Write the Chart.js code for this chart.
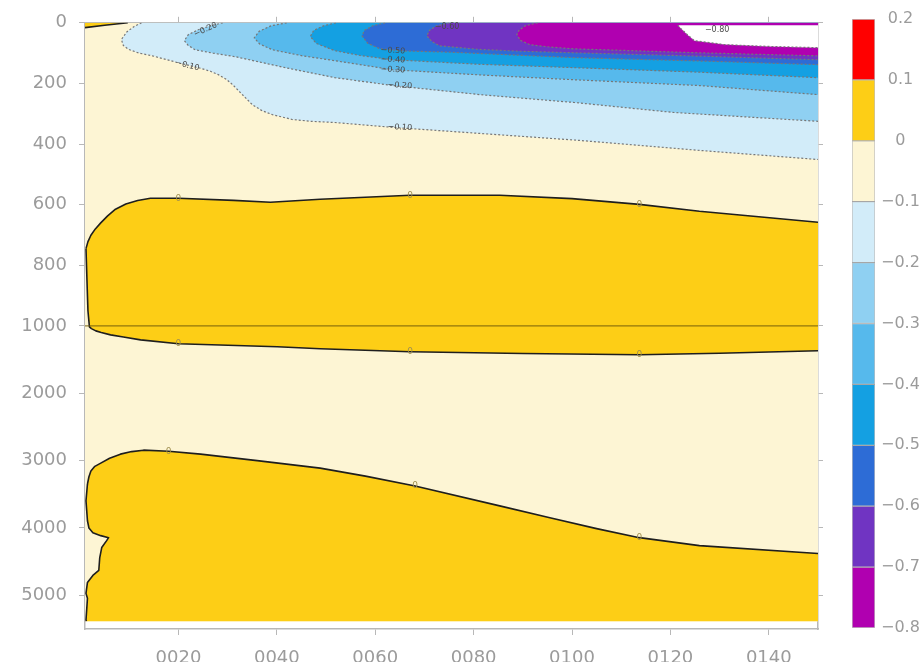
<!DOCTYPE html>
<html>
<head>
<meta charset="utf-8">
<script src="https://cdn.jsdelivr.net/npm/chart.js@4.4.1/dist/chart.umd.min.js"></script>
<style>
  body { margin: 0; background: #fff; }
  #wrap { position: relative; width: 923px; height: 662px; overflow: hidden; }
  #mainChart { position: absolute; left: 0; top: 0; }
  #barChart { position: absolute; left: 845px; top: 0; }
</style>
</head>
<body>
<div id="wrap">
  <canvas id="mainChart" width="840" height="662"></canvas>
  <canvas id="barChart" width="78" height="662"></canvas>
</div>
<script>
// axes
var xMin = 1, xMax = 150;
var depthBreak = 1000, depthMax = 5500, dataBottom = 5384;
var xTickValues = [20, 40, 60, 80, 100, 120, 140];
var depthTicks = [0, 200, 400, 600, 800, 1000, 2000, 3000, 4000, 5000];

// colour bar levels (bottom to top) and colours of each band
var cbLevels = [-0.8, -0.7, -0.6, -0.5, -0.4, -0.3, -0.2, -0.1, 0, 0.1, 0.2];
var cbColors = ['#b000b0', '#7034c2', '#2d6cd6', '#14a0e2', '#56b9ec', '#8fd0f2', '#d2ecf9', '#fdf5d4', '#fdce16', '#ff0000'];

// contour regions, [year, depth]
var bandBackground = [[1, 0], [150, 0], [150, 5384], [1, 5384]];
var posSurface = [[9.7, 0], [5, 8], [1, 16], [1, 0]];
var posUpper = [[1.2, 745], [1.6, 722], [2.2, 701], [3.1, 680], [4.2, 660], [5.6, 637], [7.2, 615], [9.3, 598],
  [11.7, 586], [14.3, 579], [20, 579], [31.2, 586], [38.7, 592], [48.8, 582], [67.1, 569], [85.3, 569],
  [100, 580], [113.7, 599], [125.9, 622], [150, 658],
  [150, 1369], [130, 1405], [113.7, 1428], [90, 1410], [67.1, 1384], [48.8, 1340], [40.1, 1310], [20, 1266],
  [12.3, 1207], [8.8, 1165], [6.2, 1133], [4.3, 1098], [3.2, 1074], [2.3, 1040], [1.9, 1015], [1.6, 950],
  [1.4, 850], [1.2, 745]];
var posDeep = [[1.5, 3347], [1.8, 3240], [2.2, 3155], [3.0, 3085], [4.2, 3037], [6.0, 2965], [8.2, 2904],
  [10.5, 2866], [12.9, 2845], [18, 2860], [24.5, 2904], [36, 3000], [48.8, 3111], [58, 3230], [68.1, 3376],
  [85.3, 3672], [95.5, 3849], [105, 4010], [113.7, 4144], [125.9, 4262], [150, 4380],
  [150, 5384], [1.3, 5384], [1.2, 5369], [1.5, 5044], [1.2, 4971], [1.5, 4808], [2.6, 4705], [3.8, 4631],
  [4.0, 4439], [4.4, 4291], [5.4, 4188], [5.8, 4144], [4.2, 4114], [2.6, 4070], [1.8, 4000], [1.5, 3893],
  [1.2, 3598], [1.5, 3347]];
var neg10 = [[12.5, 0], [11, 12], [9.5, 30], [8.4, 55], [8.8, 75], [9.9, 88], [12, 100], [14.7, 109], [20, 132],
  [24.5, 150], [26.5, 160], [28.1, 171], [29.7, 186], [31, 204], [33.6, 247], [35, 270], [37, 290], [39.1, 303],
  [43.1, 319], [47, 325], [51.8, 329], [63.6, 345], [81.3, 365], [101.5, 388], [125.9, 421], [150, 451], [150, 0]];
var neg20 = [[29, 0], [26.5, 10], [24, 23], [22, 39], [21.2, 59], [22, 75], [23.4, 89], [27, 100], [31.6, 112],
  [41.7, 148], [51.8, 181], [63.6, 207], [81.3, 237], [100.5, 263], [120.8, 296], [150, 325], [150, 0]];
var neg30 = [[42, 0], [38.8, 10], [36.4, 28], [35.4, 50], [36.5, 70], [39.1, 89], [45.2, 109], [51.8, 125],
  [63.6, 155], [81.3, 172], [100.5, 188], [125.9, 207], [150, 237], [150, 0]];
var neg40 = [[52, 0], [49.5, 10], [47.5, 25], [46.8, 45], [48, 68], [51.8, 92], [57, 108], [63.6, 122],
  [81.3, 137], [100.5, 148], [125.9, 163], [150, 181], [150, 0]];
var neg50 = [[62, 0], [59.5, 10], [57.8, 25], [57.3, 43], [58.5, 68], [61, 86], [66, 93], [75.2, 97],
  [100.5, 115], [125.9, 126], [150, 138], [150, 0]];
var neg60 = [[75, 0], [72.5, 10], [71, 25], [70.5, 43], [71.5, 62], [73.1, 76], [81.3, 88], [90, 94],
  [100.5, 99], [125.9, 110], [150, 122], [150, 0]];
var neg70 = [[93, 0], [90.5, 10], [89.2, 25], [88.8, 39], [89.5, 58], [91.4, 72], [95.5, 80], [100.5, 86],
  [125.9, 99], [150, 109], [150, 0]];
var neg80 = [[121.5, 8], [122.2, 20], [123.5, 40], [124.9, 59], [131, 72], [140, 78], [150, 82], [150, 8]];
var divider = [[1, 1000], [150, 1000]];

// contour labels
var labelText = ['0', '0', '0', '0', '0', '0', '0', '0', '0',
  '\u22120.10', '\u22120.20', '\u22120.10', '\u22120.20', '\u22120.30', '\u22120.40', '\u22120.50', '\u22120.60', '\u22120.80'];
var labelX = [20, 67.1, 113.7, 20, 67.1, 113.7, 18, 68.1, 113.7, 21.8, 25.5, 65, 65, 63.6, 63.6, 63.6, 74.6, 129.5];
var labelY = [579, 569, 599, 1266, 1384, 1428, 2860, 3376, 4144, 141, 23, 345, 207, 155, 122, 92, 13, 24];
var labelAngle = [0, 0, 0, 0, 0, 0, 0, 0, 0, 14, -25, 3, 3, 3, 3, 3, 0, 0];

var tickColor = '#9b9b9b';
var axisColor = '#b8b8b8';
var tickFont = { family: '"DejaVu Sans"', size: 18 };

// depth axis: 0-1000 on the top half, 1000-max on the bottom half
class DepthScale extends Chart.LinearScale {
  buildTicks() {
    return depthTicks.map(function(v) { return { value: v }; });
  }
  getPixelForValue(v) {
    var f = v <= depthBreak ? 0.5 * v / depthBreak : 0.5 + 0.5 * (v - depthBreak) / (this.max - depthBreak);
    return this.top + f * (this.bottom - this.top);
  }
  getValueForPixel(p) {
    var f = (p - this.top) / (this.bottom - this.top);
    return f <= 0.5 ? f * 2 * depthBreak : depthBreak + (f - 0.5) * 2 * (this.max - depthBreak);
  }
}
DepthScale.id = 'depth';
DepthScale.defaults = Chart.LinearScale.defaults;
Chart.register(DepthScale);

function onEdge(p) {
  return p[0] <= xMin + 0.01 || p[0] >= xMax - 0.01 || p[1] <= 0.01 || p[1] >= dataBottom - 0.01;
}
function toXY(pts) {
  return pts.map(function(p) { return { x: p[0], y: p[1] }; });
}

// filled area (no outline)
function area(pts, fillColor) {
  return {
    data: toXY(pts), fill: 'shape', backgroundColor: fillColor,
    borderWidth: 0, borderColor: 'rgba(0,0,0,0)', pointRadius: 0, tension: 0
  };
}
// contour line along the same points, hidden where it runs on the frame
function contour(pts, lineColor, lineWidth, dash) {
  return {
    data: toXY(pts), fill: false, borderColor: lineColor, borderWidth: lineWidth,
    borderDash: dash, pointRadius: 0, tension: 0, borderJoinStyle: 'round',
    segment: {
      borderColor: function(ctx) {
        var a = pts[ctx.p0DataIndex], b = pts[ctx.p1DataIndex];
        return (onEdge(a) && onEdge(b)) ? 'rgba(0,0,0,0)' : lineColor;
      }
    }
  };
}

var zeroLine = '#1e1e1e';
var negLine = '#777777';
var datasets = [
  area(bandBackground, cbColors[7]),
  area(posSurface, cbColors[8]), contour(posSurface, zeroLine, 1.6, []),
  area(posUpper, cbColors[8]), contour(posUpper, zeroLine, 1.6, []),
  area(posDeep, cbColors[8]), contour(posDeep, zeroLine, 1.6, []),
  area(neg10, cbColors[6]), contour(neg10, negLine, 1.2, [2, 2]),
  area(neg20, cbColors[5]), contour(neg20, negLine, 1.2, [2, 2]),
  area(neg30, cbColors[4]), contour(neg30, negLine, 1.2, [2, 2]),
  area(neg40, cbColors[3]), contour(neg40, negLine, 1.2, [2, 2]),
  area(neg50, cbColors[2]), contour(neg50, negLine, 1.2, [2, 2]),
  area(neg60, cbColors[1]), contour(neg60, negLine, 1.2, [2, 2]),
  area(neg70, cbColors[0]), contour(neg70, negLine, 1.2, [2, 2]),
  area(neg80, '#ffffff'), contour(neg80, negLine, 1.2, [2, 2]),
  { data: toXY(divider), fill: false, borderColor: 'rgba(110,90,10,0.75)', borderWidth: 1.2, pointRadius: 0 }
];
// first in the list is painted first
datasets.forEach(function(d, i) { d.order = datasets.length - i; });

var labelPlugin = {
  id: 'contourLabels',
  afterDatasetsDraw: function(chart) {
    var ctx = chart.ctx, xs = chart.scales.x, ys = chart.scales.y;
    ctx.save();
    ctx.textAlign = 'center';
    ctx.textBaseline = 'middle';
    for (var i = 0; i < labelText.length; i++) {
      var px = xs.getPixelForValue(labelX[i]), py = ys.getPixelForValue(labelY[i]);
      ctx.save();
      ctx.translate(px, py);
      ctx.rotate(labelAngle[i] * Math.PI / 180);
      if (labelText[i] == '0') {
        ctx.font = '9px "DejaVu Sans"';
        ctx.fillStyle = '#a09050';
      } else {
        ctx.font = '8px "DejaVu Sans"';
        ctx.fillStyle = '#4a4a4a';
      }
      ctx.fillText(labelText[i], 0, 0);
      ctx.restore();
    }
    ctx.restore();
  }
};

function setXTicks(scale) {
  scale.ticks = xTickValues.map(function(v) { return { value: v }; });
}

new Chart(document.getElementById('mainChart'), {
  type: 'line',
  data: { datasets: datasets },
  plugins: [labelPlugin],
  options: {
    responsive: false,
    animation: false,
    devicePixelRatio: 1,
    layout: { padding: { left: 0, top: 14, right: 17, bottom: 0 } },
    plugins: { legend: { display: false }, tooltip: { enabled: false } },
    scales: {
      x: {
        type: 'linear', position: 'bottom', min: xMin, max: xMax, z: 1,
        afterBuildTicks: setXTicks,
        ticks: {
          autoSkip: false, maxRotation: 0, padding: 13, color: tickColor, font: tickFont,
          callback: function(v) { return String(v).padStart(4, '0'); }
        },
        grid: { drawOnChartArea: false, tickLength: 6, color: axisColor },
        border: { color: axisColor, width: 1.5 },
        afterFit: function(s) { s.height = 33; }
      },
      x2: {
        type: 'linear', position: 'top', min: xMin, max: xMax, z: 1,
        afterBuildTicks: setXTicks,
        ticks: { display: false },
        grid: { drawOnChartArea: false, tickLength: 6, color: axisColor },
        border: { color: axisColor, width: 1.5 },
        afterFit: function(s) { s.height = 6; }
      },
      y: {
        type: 'depth', position: 'left', min: 0, max: depthMax, z: 1,
        ticks: {
          autoSkip: false, padding: 12, color: tickColor, font: tickFont,
          callback: function(v) { return String(v); }
        },
        grid: { drawOnChartArea: false, tickLength: 6, color: axisColor },
        border: { color: axisColor, width: 1.5 },
        afterFit: function(s) { s.width = 85; }
      },
      y2: {
        type: 'depth', position: 'right', min: 0, max: depthMax, z: 1,
        ticks: { display: false },
        grid: { drawOnChartArea: false, tickLength: 5, color: axisColor },
        border: { color: axisColor, width: 1.5 },
        afterFit: function(s) { s.width = 5; }
      }
    }
  }
});

// colour bar
function cbLabel(v) {
  if (Math.abs(v) < 1e-9) return '0';
  return (v < 0 ? '\u2212' : '') + Math.abs(v).toFixed(1);
}

new Chart(document.getElementById('barChart'), {
  type: 'bar',
  data: {
    labels: [''],
    datasets: cbColors.map(function(c, i) {
      return {
        data: [[cbLevels[i], cbLevels[i + 1]]],
        backgroundColor: c,
        borderColor: 'rgba(70,70,70,0.35)',
        borderWidth: 1,
        borderSkipped: false,
        barPercentage: 1,
        categoryPercentage: 1,
        grouped: false
      };
    })
  },
  options: {
    responsive: false,
    animation: false,
    devicePixelRatio: 1,
    layout: { padding: { left: 7, top: 19, right: 0, bottom: 34 } },
    plugins: { legend: { display: false }, tooltip: { enabled: false } },
    scales: {
      x: { display: false },
      y: {
        position: 'right', min: -0.8, max: 0.2,
        afterBuildTicks: function(s) { s.ticks = cbLevels.map(function(v) { return { value: v }; }); },
        ticks: {
          autoSkip: false, padding: -2, crossAlign: 'center', color: tickColor,
          font: { family: '"DejaVu Sans"', size: 16 },
          callback: cbLabel
        },
        grid: { display: false },
        border: { display: false },
        afterFit: function(s) { s.width = 48; }
      }
    }
  }
});
</script>
</body>
</html>
